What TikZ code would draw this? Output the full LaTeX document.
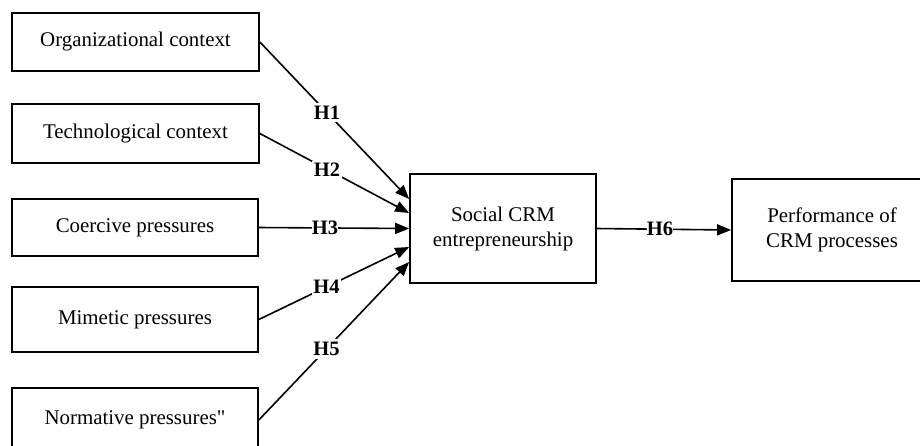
\documentclass[tikz,border=0pt]{standalone}
\usepackage{fontspec}
\newfontfamily\tnr{Liberation Serif}
\usetikzlibrary{arrows.meta}
\begin{document}
\begin{tikzpicture}[x=1pt,y=-1pt,
  box/.style={draw, line width=1.7pt, inner sep=0pt, align=center,
    font=\tnr\fontsize{20.9}{25}\selectfont},
  link/.style={line width=1.6pt, -{Triangle[length=14pt,width=11pt]}},
  hyp/.style={fill=white, inner sep=3pt, font=\tnr\fontsize{20.5}{24}\selectfont\bfseries}]
\clip (0,0) rectangle (920,445);
\fill[white] (0,0) rectangle (920,445);
\node[box, minimum width=247pt, minimum height=58pt] (b1) at (135.5,42) {Organizational context};
\node[box, minimum width=247pt, minimum height=59pt] (b2) at (135.5,133.5) {Technological context};
\node[box, minimum width=246pt, minimum height=57pt] (b3) at (135,227.5) {Coercive pressures};
\node[box, minimum width=246pt, minimum height=65pt] (b4) at (135,319.5) {Mimetic pressures};
\node[box, minimum width=246pt, minimum height=64pt] (b5) at (135,420) {Normative pressures"};
\node[box, minimum width=186pt, minimum height=109pt] (c) at (503,228.5) {Social CRM\\entrepreneurship};
\node[box, minimum width=200pt, minimum height=102pt] (r) at (832,230) {Performance of\\CRM processes};
\coordinate (e1) at ([yshift=29.5pt]c.west);
\coordinate (e2) at ([yshift=15.5pt]c.west);
\coordinate (e3) at (c.west);
\coordinate (e4) at ([yshift=-18.5pt]c.west);
\coordinate (e5) at ([yshift=-33.5pt]c.west);
\draw[link] (b1.east) -- node[hyp, pos=0.45] {H1} (e1);
\draw[link] (b2.east) -- node[hyp, pos=0.45, inner sep=1.5pt] {H2} (e2);
\draw[link] (b3.east) -- node[hyp, pos=0.44, inner sep=0pt] {H3} (e3);
\draw[link] (b4.east) -- node[hyp, pos=0.45, inner sep=1.5pt] {H4} (e4);
\draw[link] (b5.east) -- node[hyp, pos=0.45] {H5} (e5);
\draw[link] (c.east) -- node[hyp, pos=0.47, inner sep=0pt] {H6} (r.west);
\end{tikzpicture}
\end{document}
